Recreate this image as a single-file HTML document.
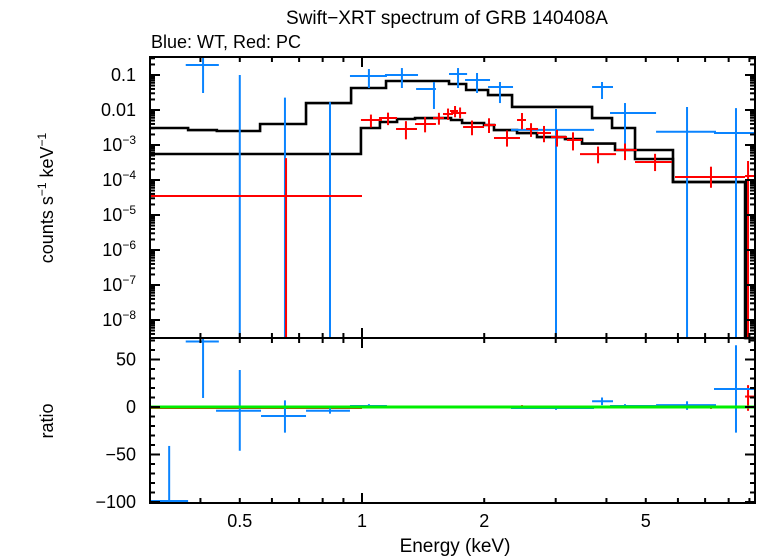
<!DOCTYPE html>
<html><head><meta charset="utf-8"><style>
html,body{margin:0;padding:0;background:#fff;}
svg{display:block;font-family:"Liberation Sans",sans-serif;}
</style></head><body>
<svg id="chart" width="758" height="556" viewBox="0 0 758 556" xmlns="http://www.w3.org/2000/svg">
<text x="447" y="24" font-size="19" text-anchor="middle">Swift−XRT spectrum of GRB 140408A</text>
<text x="151" y="48" font-size="18">Blue: WT, Red: PC</text>
<text transform="translate(53,198) rotate(-90)" font-size="18" text-anchor="middle">counts s<tspan font-size="12" dy="-7">−1</tspan><tspan dy="7"> keV</tspan><tspan font-size="12" dy="-7">−1</tspan></text>
<text transform="translate(53,421) rotate(-90)" font-size="18" text-anchor="middle">ratio</text>
<text x="455" y="552" font-size="19" text-anchor="middle">Energy (keV)</text>
<g id="marks"></g>
</svg>
<script>
// ---- data ----
const wtE    = [0.406,0.500,0.646,0.834,1.040,1.254,1.504,1.724,1.920,2.187,3.005,3.901,4.444,6.318,8.34];
const wtElo  = [0.368,0.437,0.564,0.728,0.934,1.139,1.359,1.638,1.794,2.044,2.328,3.687,4.082,5.30,7.362];
const wtEhi  = [0.444,0.564,0.728,0.934,1.152,1.374,1.521,1.815,2.067,2.355,3.728,4.152,5.30,7.446,9.40];
const wtV    = [0.193,1e-10,1e-10,1e-10,0.0936,0.1,0.0398,0.107,0.072,0.0454,0.0027,0.0454,0.0082,0.0024,0.0022];
const wtVlo  = [0.0306,1e-10,1e-10,1e-10,0.0425,0.0425,0.0107,0.0425,0.0306,0.0158,1e-10,0.0206,0.0004,1e-10,1e-10];
const wtVhi  = [0.349,0.1,0.0226,0.0168,0.148,0.158,0.0631,0.158,0.114,0.0631,0.0107,0.0631,0.0158,0.0122,0.0113];
const pcE    = [0.65,1.052,1.159,1.283,1.430,1.547,1.629,1.695,1.744,1.866,2.055,2.276,2.478,2.608,2.807,3.022,3.309,3.814,4.444,5.270,7.237,8.93];
const pcElo  = [0.299,0.994,1.101,1.213,1.351,1.496,1.583,1.647,1.657,1.774,1.998,2.114,2.409,2.535,2.698,2.921,3.198,3.443,4.224,4.704,5.901,8.78];
const pcEhi  = [1.0,1.120,1.220,1.366,1.521,1.592,1.676,1.724,1.805,1.998,2.138,2.450,2.535,2.714,2.921,3.198,3.483,4.224,4.757,5.800,8.78,9.40];
const pcV    = [0.0000349,0.00518,0.0059,0.00287,0.00398,0.0059,0.00769,0.00936,0.0082,0.00327,0.00373,0.00158,0.00518,0.00287,0.0022,0.00169,0.00139,0.00055,0.00072,0.000327,0.000122,0.00013];
const pcVlo  = [1e-10,0.00318,0.0037,0.00145,0.0023,0.0038,0.0052,0.0062,0.0058,0.0019,0.0022,0.0009,0.0028,0.0017,0.0012,0.0009,0.0007,0.0003,0.00037,0.00018,0.00006,1e-10];
const pcVhi  = [0.00042,0.0074,0.0084,0.0048,0.0063,0.0083,0.011,0.0130,0.0118,0.0050,0.0058,0.0026,0.0082,0.0042,0.0035,0.0027,0.0023,0.0009,0.0011,0.00056,0.00024,0.00035];
const wtModEdges = [0.299,0.373,0.439,0.561,0.728,0.940,1.146,1.638,1.805,2.044,2.342,3.687,4.129,4.704,5.834,8.78,9.40];
const wtModVals  = [0.00306,0.00268,0.00251,0.00398,0.0158,0.0425,0.0674,0.0553,0.0373,0.0268,0.0122,0.0059,0.00306,0.00072,0.0000877,1e-10];
const pcModEdges = [0.299,0.994,1.107,1.220,1.351,1.657,1.764,1.998,2.114,2.409,2.698,3.162,3.483,4.200,4.704,5.834,8.83,9.40];
const pcModVals  = [0.000553,0.00306,0.00454,0.00553,0.0059,0.00518,0.00425,0.00373,0.00268,0.0022,0.00169,0.00148,0.00110,0.00072,0.000398,0.0000877,1e-10];
const rWtE   = [0.335,0.406,0.500,0.646,0.834,1.040,1.254,1.504,1.724,1.920,2.187,3.005,3.901,4.444,6.318,8.34];
const rWtElo = [0.299,0.368,0.437,0.564,0.728,0.934,1.139,1.359,1.638,1.794,2.044,2.328,3.687,4.082,5.30,7.362];
const rWtEhi = [0.373,0.444,0.564,0.728,0.934,1.152,1.374,1.521,1.815,2.067,2.355,3.728,4.152,5.30,7.446,9.40];
const rWtV   = [-99,69,-4,-9.5,-4,1,0,0,0.5,0,0,-1,6,1,2,19];
const rWtLo  = [-101,9.5,-46,-27,-7,-1,-1,-1,-1,-1,-1,-3,2,-1,-3,-27];
const rWtHi  = [-41,76,39,7,1,3,1,1,1.5,1,1,1,10,3,6,65];
const rPcV   = [-1,0,0,0,0,0,0,0,0,0,0,0,0.5,0,0,0,0,0,0,0,0,11];
const rPcLo  = [-1,-1,-1,-1,-1,-1,-1,-1,-1,-1,-1,-1,-1,-1,-1,-1,-1,-1,-1,-1,-2,-4];
const rPcHi  = [-1,1,1,1,1,1,1,1,1,1,1,1,2,1,1,1,1,1,1,1,2,23];
const xTickLabels = ["0.5","1","2","5"];
const xTickVals = [0.5,1,2,5];
const yTopLabelExps = [-1,-2,-3,-4,-5,-6,-7,-8];
const yBotTicks = [50,0,-50,-100];

// ---- scales ----
const L=150, R=755, T=57, M=338, B=503;
const xs = e => 362 + 406*Math.log10(e);
const ysTop = v => { const y = 75 - 35*(Math.log10(v)+1); return Math.max(T, Math.min(M, y)); };
const ysBot = r => { const y = 407 - 0.95*r; return Math.max(M, Math.min(B, y)); };
const clampX = x => Math.max(L, Math.min(R, x));
const NS="http://www.w3.org/2000/svg";
const g=document.getElementById('marks');
function line(x1,y1,x2,y2,col,w,name){
  const l=document.createElementNS(NS,'line');
  l.setAttribute('x1',x1);l.setAttribute('y1',y1);l.setAttribute('x2',x2);l.setAttribute('y2',y2);
  l.setAttribute('stroke',col);l.setAttribute('stroke-width',w);
  
  
  g.appendChild(l);return l;
}
function txt(x,y,s,anchor,name){
  const t=document.createElementNS(NS,'text');
  t.setAttribute('x',x);t.setAttribute('y',y);t.setAttribute('font-size','18');t.setAttribute('text-anchor',anchor);
  
  
  if(s) t.textContent=s;
  g.appendChild(t);return t;
}
function step(edges,vals,col,name){
  let d='';
  for(let i=0;i<vals.length;i++){
    const x1=clampX(xs(edges[i])),x2=clampX(xs(edges[i+1])),y=ysTop(vals[i]);
    d+=(i===0?'M':'L')+x1+' '+y+' L'+x2+' '+y+' ';
  }
  const p=document.createElementNS(NS,'path');
  p.setAttribute('d',d);p.setAttribute('fill','none');p.setAttribute('stroke',col);p.setAttribute('stroke-width','2.6');
  
  
  g.appendChild(p);
}
step(wtModEdges,wtModVals,'#000','wt-model-line');
step(pcModEdges,pcModVals,'#000','pc-model-line');
const BLUE='#0a84ff', RED='#ff0000';
for(let i=0;i<wtE.length;i++){
  const x=xs(wtE[i]);
  line(x,ysTop(wtVlo[i]),x,ysTop(wtVhi[i]),BLUE,2,'wt-point-err');
  if(wtV[i]>1e-9) line(clampX(xs(wtElo[i])),ysTop(wtV[i]),clampX(xs(wtEhi[i])),ysTop(wtV[i]),BLUE,2,'wt-point');
}
for(let i=0;i<pcE.length;i++){
  const x=xs(pcE[i]);
  line(x,ysTop(pcVlo[i]),x,ysTop(pcVhi[i]),RED,2,'pc-point-err');
  line(clampX(xs(pcElo[i])),ysTop(pcV[i]),clampX(xs(pcEhi[i])),ysTop(pcV[i]),RED,2,'pc-point');
}
for(let i=0;i<rPcV.length;i++){
  const x=xs(pcE[i]);
  line(x,ysBot(rPcLo[i]),x,ysBot(rPcHi[i]),RED,2,'pc-ratio-err');
  line(clampX(xs(pcElo[i])),ysBot(rPcV[i]),clampX(xs(pcEhi[i])),ysBot(rPcV[i]),RED,2,'pc-ratio');
}
for(let i=0;i<rWtE.length;i++){
  const x=xs(rWtE[i]);
  line(x,ysBot(rWtLo[i]),x,ysBot(rWtHi[i]),BLUE,2,'wt-ratio-err');
  line(clampX(xs(rWtElo[i])),ysBot(rWtV[i]),clampX(xs(rWtEhi[i])),ysBot(rWtV[i]),BLUE,2,'wt-ratio');
}
line(L,ysBot(0),R,ysBot(0),'#00ee00',3,'zero-line');
[[T,M],[M,B]].forEach(([a,b],k)=>{
  const r=document.createElementNS(NS,'rect');
  r.setAttribute('x',L);r.setAttribute('y',a);r.setAttribute('width',R-L);r.setAttribute('height',b-a);
  r.setAttribute('fill','none');r.setAttribute('stroke','#000');r.setAttribute('stroke-width','2');
  
  
  g.appendChild(r);
});
const minors=[0.4,0.5,0.6,0.7,0.8,0.9,1,2,3,4,5,6,7,8,9];
minors.forEach(e=>{
  const x=xs(e), len=(e===1)?10:5;
  [[T,1],[M,-1],[M,1],[B,-1]].forEach(([y,s])=>line(x,y,x,y+s*len,'#000',2,'x-tick'));
});
xTickVals.forEach((e,i)=>txt(xs(e),527,xTickLabels[i],'middle','x-tick-label'));
for(let d=-9;d<=-1;d++){
  for(let m=1;m<10;m++){
    const v=m*Math.pow(10,d), y=75-35*(Math.log10(v)+1);
    if(y<T||y>M) continue;
    const len=m===1?10:5;
    line(L,y,L+len,y,'#000',2,'y-tick');line(R,y,R-len,y,'#000',2,'y-tick');
  }
}
yTopLabelExps.forEach(p=>{
  const y=75-35*(p+1)+6;
  if(p===-1) txt(136,y,'0.1','end','y-tick-label');
  else if(p===-2) txt(136,y,'0.01','end','y-tick-label');
  else {
    const t=txt(136,y,'','end','y-tick-label');
    const a=document.createElementNS(NS,'tspan');a.textContent='10';t.appendChild(a);
    const b=document.createElementNS(NS,'tspan');b.textContent='−'+(-p);b.setAttribute('font-size','12');b.setAttribute('dy','-7');t.appendChild(b);
  }
});
for(let r=-100;r<=70;r+=10){
  const y=407-0.95*r, len=(r%50===0)?10:5;
  line(L,y,L+len,y,'#000',2,'ratio-y-tick');line(R,y,R-len,y,'#000',2,'ratio-y-tick');
}
yBotTicks.forEach(r=>txt(136,407-0.95*r+6,r<0?'−'+(-r):String(r),'end','ratio-y-tick-label'));
</script>
</body></html>
